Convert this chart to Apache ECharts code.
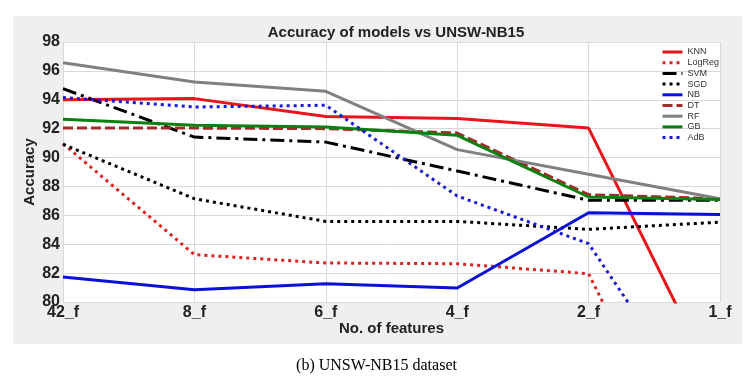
<!DOCTYPE html>
<html>
<head>
<meta charset="utf-8">
<script src="https://cdn.jsdelivr.net/npm/echarts@6/dist/echarts.min.js"></script>
<style>
html,body{margin:0;padding:0;background:#fff;}
#chart{width:753px;height:383px;}
</style>
</head>
<body>
<div id="chart"></div>
<script>
var categories = ['42_f', '8_f', '6_f', '4_f', '2_f', '1_f'];
var yTicks = [80, 98, 2];
var knn    = [94.0, 94.08, 92.85, 92.7, 92.04, 73.7];
var logreg = [90.96, 83.28, 82.7, 82.65, 81.96, 63.7];
var svm    = [94.77, 91.42, 91.07, 89.07, 87.04, 87.04];
var sgd    = [90.92, 87.15, 85.58, 85.58, 85.03, 85.53];
var nb     = [81.73, 80.85, 81.27, 80.97, 86.18, 86.05];
var dt     = [92.04, 92.04, 92.0, 91.7, 87.43, 87.15];
var rf     = [96.57, 95.23, 94.59, 90.55, 88.84, 87.15];
var gb     = [92.65, 92.23, 92.11, 91.54, 87.27, 87.1];
var adb    = [94.15, 93.5, 93.62, 87.34, 84.04, 70.5];
var seriesNames = ['KNN', 'LogReg', 'SVM', 'SGD', 'NB', 'DT', 'RF', 'GB', 'AdB'];

var dataList = [knn, logreg, svm, sgd, nb, dt, rf, gb, adb];
var colors = ['#e8141a', '#dd2020', '#000000', '#000000', '#0a10d8', '#a52a2a', '#808080', '#0a8010', '#1818d8'];
var dashes = ['solid', [3, 4], [14, 5, 3, 5], [3, 4], 'solid', [10, 4], 'solid', 'solid', [3, 4]];

var chart = echarts.init(document.getElementById('chart'), null, {renderer: 'canvas'});
var series = seriesNames.map(function (n, i) {
  return {
    name: n, type: 'line', data: dataList[i], symbol: 'none', clip: true,
    lineStyle: {color: colors[i], width: 3, type: dashes[i], cap: 'butt'},
    itemStyle: {color: colors[i]}
  };
});
chart.setOption({
  animation: false,
  backgroundColor: '#ffffff',
  graphic: [
    {type: 'rect', z: -10, shape: {x: 13, y: 16, width: 729, height: 328}, style: {fill: '#efefef'}},
    {type: 'text', left: 'center', top: 358, style: {text: '(b) UNSW-NB15 dataset', font: '16px "Liberation Serif"', fill: '#000'}}
  ],
  title: {
    text: 'Accuracy of models vs UNSW-NB15', left: 391, top: 20, textAlign: 'center',
    textStyle: {fontFamily: 'Liberation Sans', fontWeight: 'bold', fontSize: 15, color: '#222'}
  },
  legend: {
    orient: 'vertical', left: 656, top: 42, itemWidth: 20, itemHeight: 10, itemGap: 0.7,
    itemStyle: {opacity: 0, borderWidth: 0},
    lineStyle: {width: 3},
    textStyle: {fontFamily: 'Liberation Sans', fontSize: 9, color: '#333', lineHeight: 10},
    data: seriesNames
  },
  grid: {left: 63, right: 33, top: 42, bottom: 81, show: true, backgroundColor: '#ffffff', borderWidth: 0},
  xAxis: {
    type: 'category', data: categories, boundaryGap: false,
    name: 'No. of features', nameLocation: 'middle', nameGap: 19, nameMoveOverlap: false,
    nameTextStyle: {fontFamily: 'Liberation Sans', fontWeight: 'bold', fontSize: 15, color: '#222'},
    axisLine: {show: false}, axisTick: {show: false},
    axisLabel: {fontFamily: 'Liberation Sans', fontWeight: 'bold', fontSize: 16, color: '#222', margin: 3},
    splitLine: {show: true, lineStyle: {color: '#d9d9d9', width: 1}}
  },
  yAxis: {
    type: 'value', min: yTicks[0], max: yTicks[1], interval: yTicks[2],
    name: 'Accuracy', nameLocation: 'middle', nameGap: 26, nameMoveOverlap: false,
    nameTextStyle: {fontFamily: 'Liberation Sans', fontWeight: 'bold', fontSize: 15, color: '#222'},
    axisLine: {show: false}, axisTick: {show: false},
    axisLabel: {fontFamily: 'Liberation Sans', fontWeight: 'bold', fontSize: 16, color: '#222', margin: 3},
    splitLine: {show: true, lineStyle: {color: '#d9d9d9', width: 1}}
  },
  series: series
});
</script>
</body>
</html>
